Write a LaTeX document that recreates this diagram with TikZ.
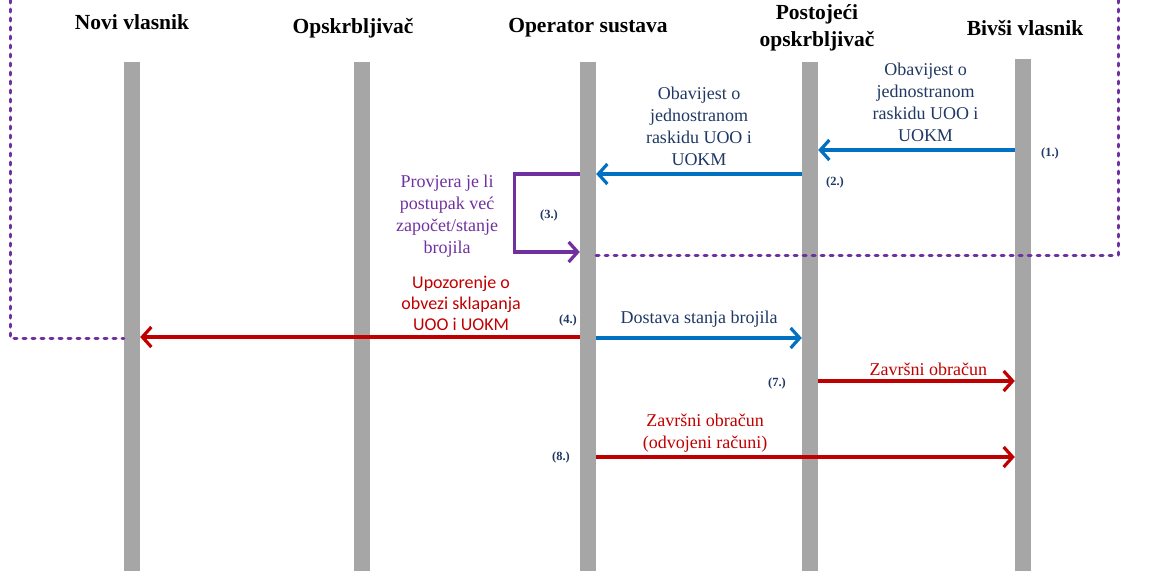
\documentclass[tikz,border=0pt]{standalone}
\usepackage{fontspec}
\setmainfont{Liberation Serif}
\newfontfamily\calib{Carlito}
\usetikzlibrary{arrows.meta,calc,positioning}
\definecolor{arrblue}{RGB}{0,112,192}
\definecolor{navy}{RGB}{31,56,100}
\definecolor{darkred}{RGB}{192,0,0}
\definecolor{violetm}{RGB}{112,48,160}
\definecolor{bargray}{RGB}{166,166,166}

\begin{document}
\begin{tikzpicture}[x=1pt,y=-1pt,
    bar/.style={fill=bargray,inner sep=0pt,minimum width=16pt,minimum height=509pt},
    head/.style={font=\fontsize{21.5}{27}\selectfont\bfseries,align=center},
    lbl/.style={font=\fontsize{18}{22}\selectfont,align=center,text=navy},
    num/.style={font=\fontsize{12.5}{14}\selectfont\bfseries,text=navy},
    msg/.style={line width=3.2pt,-{Straight Barb[length=9pt,width=20pt]}},
    frame/.style={violetm,line width=3pt,line cap=round,dash pattern=on 3pt off 6pt}]
    \useasboundingbox (0,0) rectangle (1154,571);
    % lifelines
    \node[bar] (nv) at (132,316.5) {};
    \node[bar] (op) at (362,316.5) {};
    \node[bar] (os) at (588,316.5) {};
    \node[bar] (pk) at (810,316.5) {};
    \node[bar,minimum height=512pt] (bv) at (1023,315) {};
    \node[head] (h-nv) at (132,22) {Novi vlasnik};
    \node[head] (h-op) at (353,28) {Opskrbljivač};
    \node[head] (h-os) at (588,28) {Operator sustava};
    \node[head] (h-pk) at (817,28) {Postojeći\\opskrbljivač};
    \node[head] (h-bv) at (1025,28) {Bivši vlasnik};
    % message levels
    \coordinate (y1) at (0,150);
    \coordinate (y2) at (0,174);
    \coordinate (y3) at (0,252);
    \coordinate (y4) at (0,337);
    \coordinate (y5) at (0,338);
    \coordinate (y7) at (0,381);
    \coordinate (y8) at (0,457);
    % dotted frame
    \draw[frame] (10,0) -- (10,338) -- (nv.west |- y5);
    \draw[frame] (1118,0) -- (1118,255) -- (os.east |- 0,255);
    % messages
    \draw[msg,arrblue] (bv.west |- y1) -- node[lbl,above=3pt,xshift=9pt]{Obavijest o\\jednostranom\\raskidu UOO i\\UOKM} (pk.east |- y1);
    \draw[msg,arrblue] (pk.west |- y2) -- node[lbl,above=3pt]{Obavijest o\\jednostranom\\raskidu UOO i\\UOKM} (os.east |- y2);
    \draw[msg,violetm] (os.west |- y2) -- ++(-65,0) |- (os.west |- y3);
    \node[lbl,text=violetm] (t3) at (447,216) {Provjera je li\\postupak već\\započet/stanje\\brojila};
    \draw[msg,darkred] (os.west |- y4) -- node[pos=0.27,above=1pt,font=\calib\fontsize{18}{21}\selectfont,align=center,text=darkred]{Upozorenje o\\obvezi sklapanja\\UOO i UOKM} (nv.east |- y4);
    \draw[msg,arrblue] (os.east |- y5) -- node[lbl,above=6pt]{Dostava stanja brojila} (pk.west |- y5);
    \draw[msg,darkred] (pk.east |- y7) -- node[lbl,text=darkred,pos=0.56,above=0pt]{Završni obračun} (bv.west |- y7);
    \draw[msg,darkred] (os.east |- y8) -- node[lbl,text=darkred,pos=0.26,above=0pt]{Završni obračun\\(odvojeni računi)} (bv.west |- y8);
    % step numbers
    \node[num] (n1) at (1050,153) {(1.)};
    \node[num] (n2) at (835,182) {(2.)};
    \node[num] (n3) at (549,215) {(3.)};
    \node[num] (n4) at (568,320) {(4.)};
    \node[num] (n7) at (777,383) {(7.)};
    \node[num] (n8) at (561,457) {(8.)};
\end{tikzpicture}
\end{document}
